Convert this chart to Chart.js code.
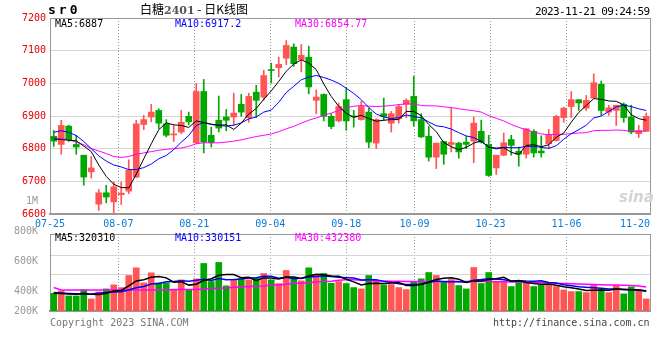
<!DOCTYPE html>
<html><head><meta charset="utf-8">
<script src="https://cdn.jsdelivr.net/npm/chart.js@4.4.1/dist/chart.umd.min.js"></script>
<style>
html,body{margin:0;padding:0;background:#fff;}
body{width:660px;height:360px;position:relative;overflow:hidden;font-family:'DejaVu Sans Mono',monospace;}
canvas{position:absolute;left:0;}
.t{position:absolute;white-space:nowrap;font-size:10px;line-height:12px;}
</style></head><body>
<canvas id="pc" width="660" height="230" style="top:0px"></canvas>
<canvas id="vc" width="660" height="140" style="top:190px"></canvas>

<div class="t" style="left:48px;top:3px;font-weight:bold;font-size:13px;line-height:14px;letter-spacing:3px;">sr0</div>
<div class="t" style="left:140px;top:1px;font-family:'Noto Sans CJK SC',sans-serif;font-size:12px;line-height:16px;">白糖<span style="color:#555;font-family:'DejaVu Serif',serif;font-weight:bold;font-size:11px;">2401</span> - 日K线图</div>
<div class="t" style="left:535px;top:5px;font-size:11px;line-height:13px;letter-spacing:-0.6px;">2023-11-21 09:24:59</div>

<div class="t" style="left:55px;top:18px;color:#000;">MA5:6887</div>
<div class="t" style="left:175px;top:18px;color:#0000ff;">MA10:6917.2</div>
<div class="t" style="left:295px;top:18px;color:#ff00ff;">MA30:6854.77</div>

<div class="t" style="left:55px;top:232px;color:#000;">MA5:320310</div>
<div class="t" style="left:175px;top:232px;color:#0000ff;">MA10:330151</div>
<div class="t" style="left:295px;top:232px;color:#ff00ff;">MA30:432380</div>

<div class="t" style="left:619px;top:189px;color:#d4d4d4;font-family:'DejaVu Sans',sans-serif;font-weight:bold;font-style:italic;font-size:15px;line-height:16px;">sina</div>

<div class="t" style="left:50px;top:317px;color:#777;">Copyright 2023 SINA.COM</div>
<div class="t" style="left:493px;top:317px;color:#444;">http://finance.sina.com.cn</div>

<script>
// ---------------- data ----------------
const dates = ['07-25','07-26','07-27','07-28','07-31','08-01','08-02','08-03','08-04','08-07',
'08-08','08-09','08-10','08-11','08-14','08-15','08-16','08-17','08-18','08-21',
'08-22','08-23','08-24','08-25','08-28','08-29','08-30','08-31','09-01','09-04',
'09-05','09-06','09-07','09-08','09-11','09-12','09-13','09-14','09-15','09-18',
'09-19','09-20','09-21','09-22','09-25','09-26','09-27','09-28','10-09','10-10',
'10-11','10-12','10-13','10-16','10-17','10-18','10-19','10-20','10-23','10-24',
'10-25','10-26','10-27','10-30','10-31','11-01','11-02','11-03','11-06','11-07',
'11-08','11-09','11-10','11-13','11-14','11-15','11-16','11-17','11-20','11-21'];

const opens = [6838,6813,6869,6813,6780,6729,6630,6665,6637,6659,
6670,6713,6874,6897,6917,6876,6842,6851,6899,6818,
6975,6841,6887,6897,6897,6936,6895,6973,6958,7041,
7048,7077,7111,7073,7080,6948,6966,6899,6885,6950,
6899,6889,6912,6817,6907,6878,6892,6936,6960,6889,
6838,6774,6822,6813,6817,6820,6823,6853,6813,6741,
6780,6828,6792,6783,6853,6793,6815,6825,6895,6929,
6950,6924,6955,6997,6912,6917,6936,6897,6846,6853];

const highs = [6856,6887,6872,6841,6780,6776,6675,6688,6698,6698,
6766,6887,6902,6936,6922,6889,6871,6917,6912,6999,
7012,6866,6961,6920,6970,6966,6970,6994,7040,7062,
7080,7131,7121,7119,7114,6980,6968,6907,6940,6987,
6917,6945,6924,6892,6955,6914,6936,6953,7022,6907,
6868,6817,6822,6924,6820,6838,6897,6887,6841,6780,
6848,6841,6805,6861,6858,6839,6859,6902,6927,6975,
6950,6963,7029,7007,6933,6933,6940,6933,6871,6909];

const lows = [6807,6783,6822,6783,6688,6710,6611,6634,6603,6629,
6662,6711,6858,6882,6861,6836,6822,6846,6873,6815,
6787,6805,6851,6855,6871,6899,6881,6895,6948,7001,
7019,7057,7052,7035,6968,6907,6885,6861,6882,6856,
6866,6887,6803,6800,6887,6851,6878,6895,6869,6834,
6762,6739,6752,6790,6771,6800,6757,6817,6715,6721,
6778,6780,6746,6771,6774,6774,6800,6823,6881,6895,
6917,6917,6953,6902,6902,6871,6881,6846,6834,6853];

const closes = [6823,6871,6827,6805,6713,6741,6665,6652,6683,6664,
6734,6876,6889,6912,6878,6841,6844,6881,6882,6975,
6820,6818,6863,6887,6909,6912,6960,6948,7024,7039,
7058,7116,7060,7086,6989,6958,6899,6868,6929,6885,
6897,6929,6820,6889,6899,6907,6929,6948,6885,6836,
6774,6817,6783,6819,6790,6813,6878,6820,6718,6780,
6818,6810,6783,6861,6787,6787,6843,6899,6924,6950,
6940,6948,7002,6917,6925,6933,6895,6851,6856,6899];

const ma5 = [6830,6828,6826,6824,6808,6791,6750,6715,6691,6681,
6680,6722,6769,6815,6858,6879,6873,6871,6865,6885,
6880,6875,6872,6873,6859,6878,6906,6923,6951,6977,
7006,7037,7059,7072,7062,7042,6998,6960,6929,6908,
6896,6902,6892,6884,6887,6889,6889,6914,6914,6901,
6874,6852,6819,6806,6797,6804,6817,6824,6804,6802,
6803,6789,6782,6810,6812,6806,6812,6835,6848,6881,
6911,6932,6953,6951,6946,6945,6934,6904,6892,6887];

const ma10 = [6850,6855,6850,6840,6822,6800,6778,6762,6750,6744,
6736,6736,6742,6753,6769,6779,6797,6820,6840,6871,
6880,6874,6871,6869,6872,6879,6891,6897,6912,6918,
6942,6972,6991,7011,7019,7024,7018,7010,7000,6985,
6969,6950,6926,6906,6897,6892,6895,6903,6899,6894,
6882,6870,6867,6860,6849,6839,6834,6822,6805,6799,
6804,6803,6803,6807,6807,6804,6801,6809,6829,6846,
6858,6872,6894,6900,6914,6928,6933,6929,6922,6917];

const ma30 = [6833,6831,6827,6820,6812,6800,6793,6785,6776,6773,
6776,6783,6787,6791,6795,6798,6800,6802,6807,6815,
6818,6818,6818,6820,6823,6827,6832,6837,6841,6845,
6852,6861,6868,6878,6887,6894,6902,6909,6917,6925,
6930,6932,6930,6929,6930,6932,6935,6937,6937,6932,
6931,6931,6928,6926,6922,6919,6916,6912,6901,6893,
6885,6874,6865,6858,6851,6845,6843,6844,6844,6846,
6848,6849,6855,6856,6856,6857,6856,6853,6852,6855];

const volumes = [318000,360000,270000,270000,378000,216000,342000,396000,468000,420000,
636000,774000,504000,684000,504000,504000,378000,558000,378000,576000,
852000,528000,870000,450000,558000,582000,558000,594000,672000,558000,
492000,726000,600000,540000,774000,654000,672000,498000,528000,492000,
420000,396000,636000,546000,468000,474000,420000,384000,528000,576000,
690000,636000,510000,564000,456000,396000,780000,492000,690000,528000,
528000,438000,540000,510000,438000,462000,462000,438000,378000,348000,
348000,330000,468000,390000,330000,456000,306000,432000,360000,216000];

const volMa5 = [318000,312000,305000,300000,319000,299000,295000,320000,360000,368000,
452000,539000,560000,604000,620000,594000,515000,526000,464000,479000,
548000,578000,641000,655000,652000,598000,604000,548000,593000,593000,
575000,608000,610000,583000,626000,659000,648000,628000,625000,569000,
522000,467000,494000,498000,493000,504000,509000,458000,455000,476000,
520000,563000,588000,595000,571000,512000,541000,538000,563000,577000,
604000,535000,545000,509000,491000,478000,482000,462000,436000,418000,
395000,368000,374000,377000,373000,395000,390000,383000,377000,354000];

const volMa10 = [330000,322000,315000,308000,300000,305000,318000,330000,340000,344000,
376000,417000,440000,482000,494000,523000,527000,543000,534000,550000,
571000,547000,583000,560000,565000,573000,591000,595000,624000,622000,
586000,606000,579000,588000,610000,617000,628000,619000,604000,598000,
590000,557000,561000,562000,531000,513000,488000,476000,476000,485000,
512000,536000,523000,525000,524000,516000,552000,563000,579000,574000,
558000,538000,541000,536000,534000,541000,509000,503000,472000,454000,
436000,425000,418000,406000,395000,395000,379000,379000,377000,364000];

const volMa30 = [420000,378000,378000,378000,378000,378000,378000,378000,378000,378000,
378000,378000,378000,378000,378000,378000,384000,384000,384000,384000,
396000,402000,408000,414000,426000,432000,438000,444000,450000,468000,
468000,480000,498000,498000,510000,522000,528000,534000,552000,558000,
558000,552000,546000,540000,536000,534000,532000,530000,530000,529000,
528000,528000,528000,528000,528000,528000,528000,528000,528000,526000,
522000,520000,518000,516000,514000,510000,505000,498000,494000,490000,
486000,480000,474000,470000,468000,465000,462000,456000,450000,432000];

const xTickLabels = ['07-25','08-07','08-21','09-04','09-18','10-09','10-23','11-06','11-20'];
const priceTicks = [6600,6700,6800,6900,7000,7100,7200];
const volGridValues = [1000000, 650000];
const volTickLabels = ['1M','800K','600K','400K','200K'];
const volTickValues = [1000000,800000,600000,400000,200000];

// ---------------- styling / helpers ----------------
const UP = '#ff5555', DOWN = '#00a800';
const GRID = '#999999', BORDER = '#999999', HGRID = '#d6d6d6';
const N = dates.length;
const idx = dates.map((d,i)=>i);
const candleColors = idx.map(i => closes[i] >= opens[i] ? UP : DOWN);
const pts = arr => idx.map(i => ({x:i, y:arr[i]}));
const xMin = -0.5, xMax = N - 0.5;
const slotPx = 600 / N;
const labelHalf = 15 / slotPx;
const font = () => ({family:"'DejaVu Sans Mono', monospace", size:10});

function xTickBuilder(scale){
  scale.ticks = xTickLabels.map(lbl => {
    const k = dates.indexOf(lbl);
    let v = k * N / (N - 1) - 0.5;            // date grid spread across the full width
    let hide = false;
    if (v > xMax - labelHalf) { v = xMax - labelHalf; hide = true; }
    return {value:v, hideGrid:hide};
  });
}
const xGridColor = ctx => (ctx.tick && ctx.tick.hideGrid) ? 'rgba(0,0,0,0)' : GRID;

function lineDs(label, data, color, order, width){
  return {type:'line', label, data:pts(data), borderColor:color, borderWidth:width||1,
          pointRadius:0, tension:0, fill:false, order};
}
const topAxis = () => ({type:'linear', position:'top', display:true, grid:{display:false},
  ticks:{display:false}, border:{display:true, color:BORDER, width:1}, afterFit:s=>{s.height=0;}});
const rightAxis = () => ({type:'linear', position:'right', display:true, grid:{display:false},
  ticks:{display:false}, border:{display:true, color:BORDER, width:1}, afterFit:s=>{s.width=0;}});

// ---------------- price chart ----------------
new Chart(document.getElementById('pc'), {
  type:'bar',
  data:{datasets:[
    lineDs('MA5', ma5, '#000000', 0),
    lineDs('MA10', ma10, '#0000ff', 1),
    lineDs('MA30', ma30, '#ff00ff', 2),
    {label:'body', data: idx.map(i=>({x:i, y:[opens[i], closes[i]]})), backgroundColor:candleColors,
     borderWidth:0, barThickness:6, minBarLength:1, grouped:false, order:3},
    {label:'wick', data: idx.map(i=>({x:i, y:[lows[i], highs[i]]})), backgroundColor:candleColors,
     borderWidth:0, barThickness:1, grouped:false, order:4}
  ]},
  options:{
    responsive:false, animation:false, devicePixelRatio:1,
    layout:{padding:{top:18, right:10, left:0, bottom:0}},
    plugins:{legend:{display:false}, tooltip:{enabled:false}},
    scales:{
      x:{type:'linear', min:xMin, max:xMax, offset:false, bounds:'data',
         grid:{offset:false, drawTicks:false, color:xGridColor, lineWidth:1},
         border:{display:true, color:BORDER, width:2, dash:[1,2]},
         ticks:{autoSkip:false, maxRotation:0, color:'#0a7ad8', font:font(), padding:4,
                callback:(v,i)=>xTickLabels[i]},
         afterBuildTicks:xTickBuilder, afterFit:s=>{s.height=16;}},
      y:{type:'linear', min:6600, max:7200,
         grid:{drawTicks:false, color:HGRID, lineWidth:1},
         border:{color:BORDER},
         ticks:{autoSkip:false, color:'#e60000', font:font(), padding:4, callback:v=>String(v)},
         afterBuildTicks:s=>{s.ticks = priceTicks.map(v=>({value:v}));},
         afterFit:s=>{s.width=50;}},
      xt:topAxis(),
      yr:rightAxis()
    }
  }
});

// ---------------- volume chart ----------------
const VOL_MAX = 1380000;
const LABEL_MIN = 266667, LABEL_MAX = 780000;
new Chart(document.getElementById('vc'), {
  type:'bar',
  data:{datasets:[
    lineDs('MA5', volMa5, '#000000', 0, 1.5),
    lineDs('MA10', volMa10, '#0000ff', 1, 1.5),
    lineDs('MA30', volMa30, '#ff00ff', 2, 1.5),
    {label:'vol', data:pts(volumes), backgroundColor:candleColors, borderWidth:0,
     barThickness:6, grouped:false, order:3}
  ]},
  options:{
    responsive:false, animation:false, devicePixelRatio:1,
    layout:{padding:{top:44, right:10, left:0, bottom:19}},
    plugins:{legend:{display:false}, tooltip:{enabled:false}},
    scales:{
      x:{type:'linear', min:xMin, max:xMax, offset:false, bounds:'data',
         grid:{offset:false, drawTicks:false, color:xGridColor, lineWidth:1},
         border:{display:true, color:BORDER, width:2, dash:[1,2]},
         ticks:{display:false, autoSkip:false},
         afterBuildTicks:xTickBuilder, afterFit:s=>{s.height=0;}},
      y:{type:'linear', position:'left', min:0, max:VOL_MAX, weight:0,
         grid:{drawTicks:false, color:HGRID, lineWidth:1},
         border:{color:BORDER},
         ticks:{display:false},
         afterBuildTicks:s=>{s.ticks = volGridValues.map(v=>({value:v}));},
         afterFit:s=>{s.width=0;}},
      yl:{type:'linear', position:'left', min:LABEL_MIN, max:LABEL_MAX, weight:1,
         grid:{display:false}, border:{display:false},
         ticks:{autoSkip:false, color:'#999999', font:font(), padding:4,
                callback:(v,i)=>volTickLabels[i]},
         afterBuildTicks:s=>{s.ticks = volTickValues.map(v=>({value:Math.max(v, s.min)}));},
         afterFit:s=>{s.width=50;}},
      xt:topAxis(),
      yr:rightAxis()
    }
  }
});
</script>
</body></html>
